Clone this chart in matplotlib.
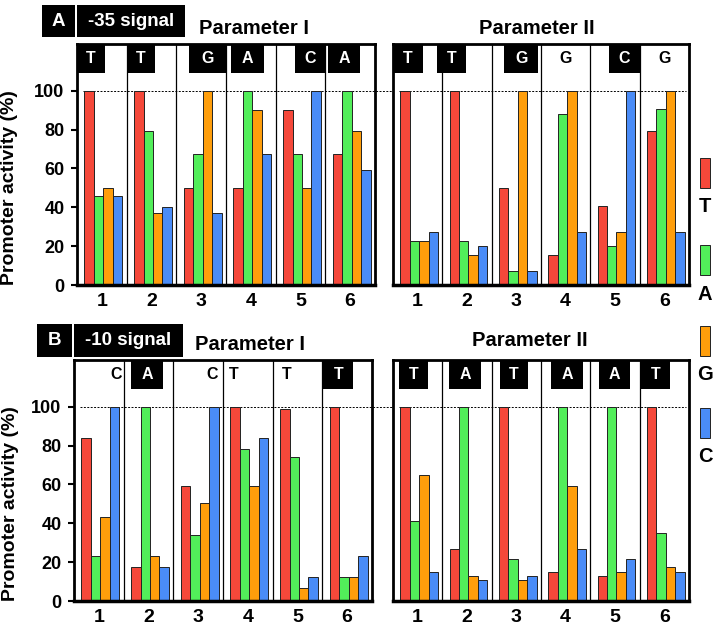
import numpy as np
import matplotlib
matplotlib.use('Agg')
import matplotlib.pyplot as plt
from matplotlib.patches import Rectangle

plt.rcParams['font.family'] = ['Liberation Sans', 'DejaVu Sans']
plt.rcParams['font.weight'] = 'bold'
plt.rcParams['axes.labelweight'] = 'bold'

# data
bases = ['T', 'A', 'G', 'C']
base_colors = ['#F5483A', '#52EE5A', '#FF9E0B', '#4A8CF7']
positions = ['1', '2', '3', '4', '5', '6']

# -35 signal, parameter I
m35_p1_T = [100, 100, 50, 50, 90, 67.5]
m35_p1_A = [46, 79, 67.5, 100, 67.5, 100]
m35_p1_G = [50, 37, 100, 90, 50, 79]
m35_p1_C = [46, 40, 37, 67.5, 100, 59]
m35_p1_seq = ['T', 'T', 'G', 'A', 'C', 'A']

# -35 signal, parameter II
m35_p2_T = [100, 100, 50, 15.5, 40.5, 79]
m35_p2_A = [22.5, 22.5, 7, 88, 20, 90.5]
m35_p2_G = [22.5, 15.5, 100, 100, 27.5, 100]
m35_p2_C = [27.5, 20, 7, 27.5, 100, 27.5]
m35_p2_seq = ['T', 'T', 'G', 'G', 'C', 'G']

# -10 signal, parameter I
m10_p1_T = [84, 17.5, 59, 100, 99, 100]
m10_p1_A = [23, 100, 34, 78, 74, 12.5]
m10_p1_G = [43, 23, 50.5, 59, 6.5, 12.5]
m10_p1_C = [100, 17.5, 100, 84, 12.5, 23]
m10_p1_seq = ['C', 'A', 'C', 'T', 'T', 'T']

# -10 signal, parameter II
m10_p2_T = [100, 27, 100, 15, 13, 100]
m10_p2_A = [41, 100, 21.5, 100, 100, 35]
m10_p2_G = [65, 13, 11, 59, 15, 17.5]
m10_p2_C = [15, 11, 13, 27, 21.5, 15]
m10_p2_seq = ['T', 'A', 'T', 'A', 'A', 'T']

# letter box layout: (x0, x1, filled) relative to group centre
m35_p1_box = [(-0.5, 0.06, 1), (-0.5, 0.08, 1), (-0.24, 0.5, 1), (-0.4, 0.26, 1), (-0.12, 0.5, 1), (-0.44, 0.2, 1)]
m35_p2_box = [(-0.5, 0.1, 1), (-0.6, -0.02, 1), (-0.24, 0.44, 1), (-0.3, 0.3, 0), (-0.12, 0.5, 1), (-0.3, 0.3, 0)]
m10_p1_box = [(0.04, 0.64, 0), (-0.36, 0.3, 1), (-0.02, 0.58, 0), (-0.58, 0.02, 0), (-0.52, 0.08, 0), (-0.48, 0.12, 1)]
m10_p2_box = [(-0.38, 0.2, 1), (-0.36, 0.28, 1), (-0.34, 0.24, 1), (-0.3, 0.36, 1), (-0.32, 0.3, 1), (-0.48, 0.12, 1)]

W, H = 717, 631
fig = plt.figure(figsize=(W / 100, H / 100), dpi=100)


def px_axes(x0, x1, y0, y1):
    return fig.add_axes([x0 / W, 1 - y1 / H, (x1 - x0) / W, (y1 - y0) / H])


def draw_panel(ax, values, seq, boxes, left):
    x = np.arange(len(positions))
    bw = 0.19
    for k, vals in enumerate(values):
        ax.bar(x + (k - 1.5) * bw + 0.03, vals, bw, color=base_colors[k],
               edgecolor='#222222', linewidth=0.7, zorder=2)
    ax.set_xlim(-0.5, 5.5)
    ax.set_ylim(0, 124)
    ax.vlines(x[:-1] + 0.5, 0, 124, color='black', linewidth=0.9, zorder=1)
    ax.axhline(100, xmin=0.02, xmax=1.07 if left else 0.99, color='black',
               linewidth=0.7, linestyle=(0, (2, 1.5)), clip_on=False, zorder=1)
    for i, (letter, (b0, b1, filled)) in enumerate(zip(seq, boxes)):
        cx = i + (b0 + b1) / 2
        if filled:
            ax.add_patch(Rectangle((i + b0, 109.3), b1 - b0, 14.7, facecolor='black',
                                   edgecolor='none', zorder=3, clip_on=False))
            ax.text(cx, 116.5, letter, color='white', ha='center', va='center',
                    fontsize=11.5, zorder=4)
        else:
            ax.text(cx, 116.5, letter, color='black', ha='center', va='center',
                    fontsize=11.5, zorder=4)
    for s in ax.spines.values():
        s.set_linewidth(2)
    ax.spines['bottom'].set_linewidth(2.5)
    ax.set_xticks(x)
    ax.set_xticklabels(positions, fontsize=14)
    ax.tick_params(axis='x', length=0, pad=6)
    if left:
        ax.set_yticks([0, 20, 40, 60, 80, 100])
        ax.tick_params(axis='y', labelsize=13, length=4, width=1.5, pad=5)
        ax.set_ylabel('Promoter activity (%)', fontsize=14)
    else:
        ax.set_yticks([])


ax1 = px_axes(77, 375, 44, 285)
draw_panel(ax1, [m35_p1_T, m35_p1_A, m35_p1_G, m35_p1_C], m35_p1_seq, m35_p1_box, True)
ax1.yaxis.set_label_coords(-0.198, 0.403)
ax2 = px_axes(393, 689, 44, 285)
draw_panel(ax2, [m35_p2_T, m35_p2_A, m35_p2_G, m35_p2_C], m35_p2_seq, m35_p2_box, False)
ax3 = px_axes(74, 372, 360, 601)
draw_panel(ax3, [m10_p1_T, m10_p1_A, m10_p1_G, m10_p1_C], m10_p1_seq, m10_p1_box, True)
ax3.yaxis.set_label_coords(-0.185, 0.403)
ax4 = px_axes(393, 689, 360, 601)
draw_panel(ax4, [m10_p2_T, m10_p2_A, m10_p2_G, m10_p2_C], m10_p2_seq, m10_p2_box, False)


def px_box(x0, x1, y0, y1, label):
    fig.patches.append(Rectangle((x0 / W, 1 - y1 / H), (x1 - x0) / W, (y1 - y0) / H,
                                 transform=fig.transFigure, facecolor='black', edgecolor='none'))
    fig.text((x0 + x1) / 2 / W, 1 - (y0 + y1) / 2 / H, label, color='white',
             ha='center', va='center', fontsize=13.5)


px_box(42, 75, 5, 37, 'A')
px_box(77, 185, 5, 37, '-35 signal')
px_box(37, 72, 324, 357, 'B')
px_box(74, 183, 324, 357, '-10 signal')

fig.text(254 / W, 1 - 29 / H, 'Parameter I', ha='center', va='center', fontsize=14.5)
fig.text(537 / W, 1 - 28 / H, 'Parameter II', ha='center', va='center', fontsize=14.5)
fig.text(250 / W, 1 - 344 / H, 'Parameter I', ha='center', va='center', fontsize=14.5)
fig.text(530 / W, 1 - 341 / H, 'Parameter II', ha='center', va='center', fontsize=14.5)

# legend at right
for k, (b, c) in enumerate(zip(bases, base_colors)):
    yc = [173, 260, 341, 423][k]
    fig.patches.append(Rectangle((700 / W, 1 - (yc + 15) / H), 10 / W, 30 / H,
                                 transform=fig.transFigure, facecolor=c,
                                 edgecolor='#222222', linewidth=0.7))
    fig.text(705 / W, 1 - (yc + 34) / H, b, ha='center', va='center', fontsize=14.5)

fig.savefig('out.png', dpi=100)
